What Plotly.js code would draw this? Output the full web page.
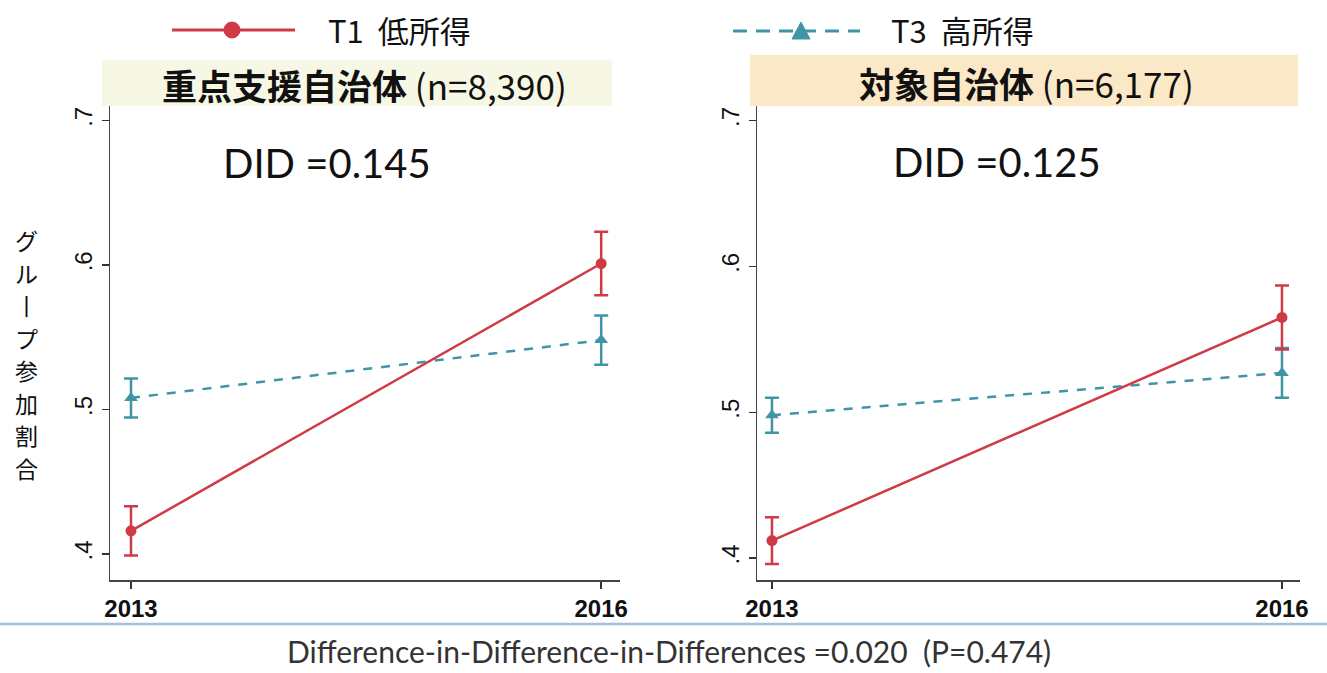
<!DOCTYPE html>
<html>
<head>
<meta charset="utf-8">
<script src="https://cdn.plot.ly/plotly-3.0.1.min.js"></script>
<style>html,body{margin:0;padding:0;background:#fff;}#chart{width:1327px;height:673px;}</style>
</head>
<body>
<div id="chart"></div>
<script>
// ---- data ----
const years = [2013, 2016];
const yearLabels = ['2013', '2016'];
const yTickVals = [0.4, 0.5, 0.6, 0.7];
const yTickText = ['.4', '.5', '.6', '.7'];

const seriesNames = ['T1  低所得', 'T3  高所得'];

// 重点支援自治体 (n=8,390)
const leftT1 = [0.416, 0.601];
const leftT1Err = [0.017, 0.022];
const leftT3 = [0.508, 0.548];
const leftT3Err = [0.0135, 0.017];

// 対象自治体 (n=6,177)
const rightT1 = [0.412, 0.565];
const rightT1Err = [0.016, 0.022];
const rightT3 = [0.498, 0.527];
const rightT3Err = [0.012, 0.017];

const panelTitles = ['<b>重点支援自治体</b> (n=8,390)', '<b>対象自治体</b> (n=6,177)'];
const didTexts = ['DID =0.145', 'DID =0.125'];
const yTitleChars = ['グ', 'ル', '丨', 'プ', '参', '加', '割', '合'];
const footText = 'Difference-in-Difference-in-Differences =0.020  (P=0.474)';

// ---- styling ----
const W = 1327, H = 673;
const px = x => x / W;
const py = y => 1 - y / H;
const RED = '#cf3a45';
const TEAL = '#3f95a6';
const CJK = '"Noto Sans CJK JP", "Noto Sans", sans-serif';
const ARIAL = '"Liberation Sans", Arial, sans-serif';
const CAL = 'Lato, "Open Sans", sans-serif';

function series(x, y, err, color, dash, symbol, size, xa, ya) {
  return {
    x: x, y: y, xaxis: xa, yaxis: ya, type: 'scatter', mode: 'lines+markers',
    line: {color: color, width: 2.5, dash: dash},
    marker: {color: color, symbol: symbol, size: size},
    error_y: {type: 'data', array: err, visible: true, color: color, thickness: 2.5, width: 7},
    hoverinfo: 'skip', showlegend: false
  };
}

const data = [
  series(years, leftT3, leftT3Err, TEAL, 'dash', 'triangle-up', 12, 'x', 'y'),
  series(years, leftT1, leftT1Err, RED, 'solid', 'circle', 11, 'x', 'y'),
  series(years, rightT3, rightT3Err, TEAL, 'dash', 'triangle-up', 12, 'x2', 'y2'),
  series(years, rightT1, rightT1Err, RED, 'solid', 'circle', 11, 'x2', 'y2')
];

function xaxis(domain, range) {
  return {
    domain: domain, range: range, tickvals: years, ticktext: yearLabels,
    ticks: 'outside', ticklen: 7, tickwidth: 1.5, tickcolor: '#333',
    showline: true, linecolor: '#444', linewidth: 1.5, showgrid: false, zeroline: false,
    tickfont: {family: ARIAL, size: 24, color: '#111', weight: 'bold'}, fixedrange: true
  };
}
function yaxis(domain, range, anchor) {
  return {
    domain: domain, range: range, anchor: anchor, tickvals: yTickVals, ticktext: yTickText,
    tickangle: -90, ticks: 'outside', ticklen: 7, tickwidth: 1.5, tickcolor: '#333',
    showline: true, linecolor: '#444', linewidth: 1.5, showgrid: false, zeroline: false,
    tickfont: {family: ARIAL, size: 24, color: '#111'}, fixedrange: true
  };
}

const yDom = [py(580), py(106)];

const annotations = [
  {xref: 'paper', yref: 'paper', x: px(326), y: py(30), xanchor: 'left', yanchor: 'middle', showarrow: false, text: seriesNames[0], font: {family: CJK, size: 31, color: '#111'}},
  {xref: 'paper', yref: 'paper', x: px(889), y: py(30), xanchor: 'left', yanchor: 'middle', showarrow: false, text: seriesNames[1], font: {family: CJK, size: 31, color: '#111'}},
  {xref: 'paper', yref: 'paper', x: px(364), y: py(84), xanchor: 'center', yanchor: 'middle', showarrow: false, text: panelTitles[0], font: {family: CJK, size: 35, color: '#111'}},
  {xref: 'paper', yref: 'paper', x: px(1026), y: py(82), xanchor: 'center', yanchor: 'middle', showarrow: false, text: panelTitles[1], font: {family: CJK, size: 35, color: '#111'}},
  {xref: 'paper', yref: 'paper', x: px(327), y: py(163), xanchor: 'center', yanchor: 'middle', showarrow: false, text: didTexts[0], font: {family: CAL, size: 40, color: '#111'}},
  {xref: 'paper', yref: 'paper', x: px(997), y: py(162), xanchor: 'center', yanchor: 'middle', showarrow: false, text: didTexts[1], font: {family: CAL, size: 40, color: '#111'}},
  {xref: 'paper', yref: 'paper', x: px(669), y: py(651), xanchor: 'center', yanchor: 'middle', showarrow: false, text: footText, font: {family: CAL, size: 30, color: '#333'}}
];
yTitleChars.forEach((ch, i) => {
  annotations.push({xref: 'paper', yref: 'paper', x: px(26), y: py(240 + i * 32.5), xanchor: 'center', yanchor: 'middle',
    showarrow: false, text: ch, font: {family: CJK, size: 23, color: '#111'}});
});

const layout = {
  width: W, height: H, margin: {l: 0, r: 0, t: 0, b: 0},
  paper_bgcolor: '#ffffff', plot_bgcolor: 'rgba(0,0,0,0)', showlegend: false,
  xaxis: xaxis([px(110), px(620)], [2012.866, 2016.12]),
  yaxis: yaxis(yDom, [0.382, 0.71], 'x'),
  xaxis2: xaxis([px(757), px(1300)], [2012.912, 2016.106]),
  yaxis2: yaxis(yDom, [0.385, 0.71], 'x2'),
  shapes: [
    // title boxes
    {type: 'rect', xref: 'paper', yref: 'paper', x0: px(102), x1: px(612), y0: py(106), y1: py(60), fillcolor: '#f6f7e4', line: {width: 0}, layer: 'below'},
    {type: 'rect', xref: 'paper', yref: 'paper', x0: px(750), x1: px(1298), y0: py(106), y1: py(55), fillcolor: '#fbe8c6', line: {width: 0}, layer: 'below'},
    // legend samples
    {type: 'line', xref: 'paper', yref: 'paper', x0: px(172), x1: px(295), y0: py(30), y1: py(30), line: {color: RED, width: 3}},
    {type: 'circle', xref: 'paper', yref: 'paper', x0: px(224), x1: px(240), y0: py(38), y1: py(22), fillcolor: RED, line: {color: RED, width: 1}},
    {type: 'line', xref: 'paper', yref: 'paper', x0: px(733), x1: px(860), y0: py(31), y1: py(31), line: {color: TEAL, width: 3, dash: '14px,9px'}},
    {type: 'path', xref: 'paper', yref: 'paper', path: 'M ' + px(792) + ' ' + py(39) + ' L ' + px(810) + ' ' + py(39) + ' L ' + px(801) + ' ' + py(22) + ' Z', fillcolor: TEAL, line: {color: TEAL, width: 1}},
    // bottom separator
    {type: 'line', xref: 'paper', yref: 'paper', x0: 0, x1: 1, y0: py(624), y1: py(624), line: {color: '#a6bfdb', width: 2.5}}
  ],
  annotations: annotations
};

Plotly.newPlot('chart', data, layout, {displayModeBar: false, staticPlot: true});
</script>
</body>
</html>
